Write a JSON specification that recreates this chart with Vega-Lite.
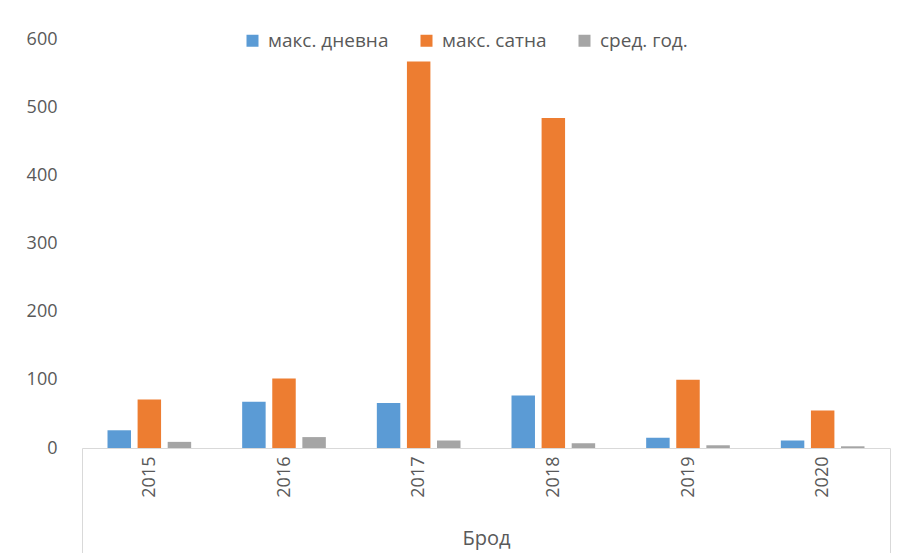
{
  "$schema": "https://vega.github.io/schema/vega-lite/v6.json",
  "width": 808,
  "height": 409,
  "autosize": "none",
  "padding": {"left": 82, "top": 39, "right": 18, "bottom": 105},
  "background": "white",
  "config": {
    "view": {"stroke": null},
    "font": "Open Sans"
  },
  "data": {
    "values": [
      {"year": "2015", "series": "макс. дневна", "value": 26},
      {"year": "2015", "series": "макс. сатна", "value": 71},
      {"year": "2015", "series": "сред. год.", "value": 9},
      {"year": "2016", "series": "макс. дневна", "value": 68},
      {"year": "2016", "series": "макс. сатна", "value": 102},
      {"year": "2016", "series": "сред. год.", "value": 16},
      {"year": "2017", "series": "макс. дневна", "value": 66},
      {"year": "2017", "series": "макс. сатна", "value": 567},
      {"year": "2017", "series": "сред. год.", "value": 11},
      {"year": "2018", "series": "макс. дневна", "value": 77},
      {"year": "2018", "series": "макс. сатна", "value": 484},
      {"year": "2018", "series": "сред. год.", "value": 7},
      {"year": "2019", "series": "макс. дневна", "value": 15},
      {"year": "2019", "series": "макс. сатна", "value": 100},
      {"year": "2019", "series": "сред. год.", "value": 4},
      {"year": "2020", "series": "макс. дневна", "value": 11},
      {"year": "2020", "series": "макс. сатна", "value": 55},
      {"year": "2020", "series": "сред. год.", "value": 2.5}
    ]
  },
  "mark": {"type": "bar"},
  "encoding": {
    "x": {
      "field": "year",
      "type": "nominal",
      "scale": {"paddingInner": 0, "paddingOuter": 0},
      "axis": {
        "title": "Брод",
        "titleFont": "Open Sans",
        "titleFontSize": 20,
        "titleFontWeight": "normal",
        "titleColor": "#595959",
        "titleY": 80,
        "titleBaseline": "top",
        "labelAngle": -90,
        "labelFontSize": 18,
        "labelColor": "#595959",
        "labelPadding": -98,
        "domainColor": "#d9d9d9",
        "domainWidth": 1,
        "ticks": true,
        "tickBand": "extent",
        "tickSize": 106,
        "tickWidth": 1,
        "tickColor": {"condition": {"test": "datum.index === -1 || datum.index === 1", "value": "#d9d9d9"}, "value": "transparent"}
      }
    },
    "xOffset": {
      "field": "series",
      "type": "nominal",
      "scale": {"paddingInner": 0.22, "paddingOuter": 0.8475, "domain": ["макс. дневна", "макс. сатна", "сред. год."]}
    },
    "y": {
      "field": "value",
      "type": "quantitative",
      "scale": {"domain": [0, 600], "nice": false},
      "axis": {
        "title": null,
        "values": [0, 100, 200, 300, 400, 500, 600],
        "grid": false,
        "domain": false,
        "ticks": false,
        "labelPadding": 25,
        "labelFontSize": 18,
        "labelColor": "#595959"
      }
    },
    "color": {
      "field": "series",
      "type": "nominal",
      "scale": {
        "domain": ["макс. дневна", "макс. сатна", "сред. год."],
        "range": ["#5b9bd5", "#ed7d31", "#a5a5a5"]
      },
      "legend": {
        "title": null,
        "orient": "none",
        "legendX": 161,
        "legendY": -8,
        "direction": "horizontal",
        "symbolType": "square",
        "symbolSize": 144,
        "symbolStrokeWidth": 0,
        "labelFontSize": 19,
        "labelColor": "#595959",
        "columnPadding": 28,
        "labelOffset": 6
      }
    }
  }
}
